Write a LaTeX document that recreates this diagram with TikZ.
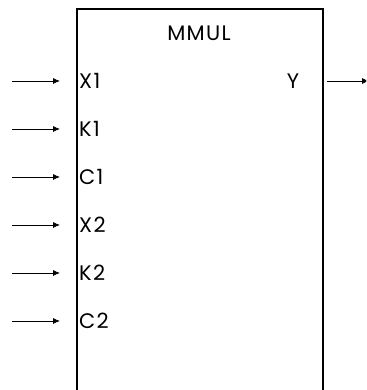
\documentclass[tikz,border=0pt]{standalone}
\usepackage{fontspec}
\setmainfont{Poppins}[LetterSpace=6]
\usetikzlibrary{arrows.meta, positioning}

\begin{document}
\begin{tikzpicture}[x=1pt,y=-1pt,
		block/.style={draw, line width=2pt, minimum width=246pt, minimum height=420pt, anchor=north west},
		port/.style={font=\fontsize{21}{25}\selectfont, inner sep=1pt},
		wire/.style={-{Latex[length=7pt,width=6pt]}, line width=0.8pt}]
			\useasboundingbox (0,0) rectangle (366,390);
			\clip (0,0) rectangle (366,390);
			% the multiplier block
			\node[block] (mmul) at (76,8) {};
			\node[port] (title) at (199,33) {MMUL};
			% inputs on the left
			\foreach \lbl [count=\i] in {X1,K1,C1,X2,K2,C2} {
				\node[port,anchor=west] (in\i) at (78,{33+48*\i}) {\lbl};
				\coordinate (src\i) at (12,{33+48*\i});
				\draw[wire,shorten >=16pt] (src\i) -- (src\i -| mmul.west);
			}
			% output on the right
			\node[port] (y) at (293,81) {Y};
			\coordinate (dst) at (369,81);
			\draw[wire,shorten <=3pt] (y -| mmul.east) -- (dst);
		\end{tikzpicture}
\end{document}
